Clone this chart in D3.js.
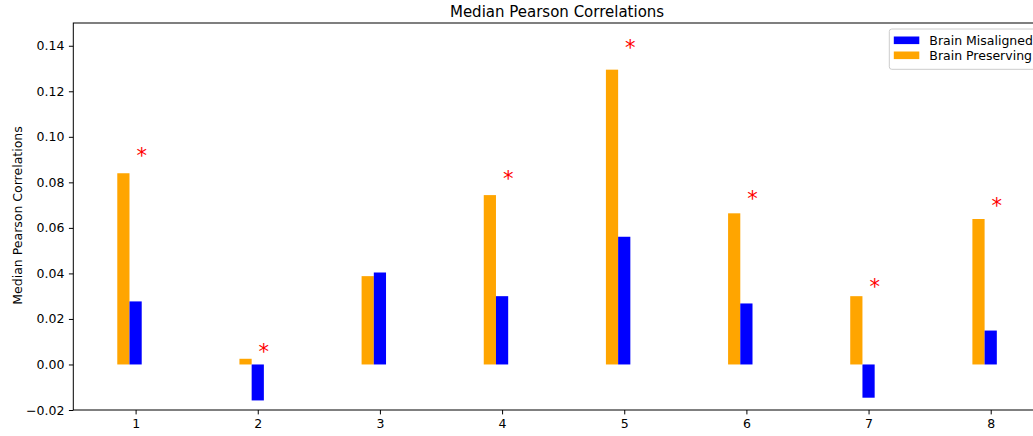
<!DOCTYPE html>
<html>
<head>
<meta charset="utf-8">
<script src="https://cdn.jsdelivr.net/npm/d3@7"></script>
<style>
  html, body { margin: 0; padding: 0; background: #fff; overflow: hidden; }
  svg { display: block; font-family: "DejaVu Sans", sans-serif; }
</style>
</head>
<body>
<svg id="chart" width="1033" height="436"></svg>
<script>
// Model index on the x axis
const categories = [1, 2, 3, 4, 5, 6, 7, 8];
// Median Pearson correlation per model
const preserving = [0.0840, 0.0025, 0.0388, 0.0744, 0.1295, 0.0664, 0.0300, 0.0639];
const misaligned = [0.0277, -0.0158, 0.0404, 0.0300, 0.0561, 0.0268, -0.0146, 0.0149];
// Height of the significance marker (null = not significant)
const starHeights = [0.0932, 0.0075, null, 0.0831, 0.1410, 0.0747, 0.0360, 0.0716];
const yTicks = [-0.02, 0.00, 0.02, 0.04, 0.06, 0.08, 0.10, 0.12, 0.14];
const seriesNames = ["Brain Misaligned", "Brain Preserving"];
const seriesColors = ["#0000ff", "#ffa500"];

(function draw() {
  const svg = d3.select("#chart");
  const mLeft = 73.3, mRight = 1040.8, mTop = 23, mBottom = 410;
  const barW = 0.1;

  const x = d3.scaleLinear().domain([0.49, 8.41]).range([mLeft, mRight]);
  const y = d3.scaleLinear().domain([-0.02, 0.15]).range([mBottom, mTop]);

  const plot = svg.append("g");

  // Bars: preserving sits just left of the tick, misaligned on the tick
  const rows = categories.map((c, i) => ({ c, p: preserving[i], m: misaligned[i], s: starHeights[i] }));

  plot.selectAll("rect.pres").data(rows).join("rect")
    .attr("class", "pres")
    .attr("x", d => x(d.c - 1.5 * barW))
    .attr("width", d => x(d.c - 0.5 * barW) - x(d.c - 1.5 * barW))
    .attr("y", d => y(Math.max(0, d.p)))
    .attr("height", d => Math.abs(y(d.p) - y(0)))
    .attr("fill", seriesColors[1]);

  plot.selectAll("rect.mis").data(rows).join("rect")
    .attr("class", "mis")
    .attr("x", d => x(d.c - 0.5 * barW))
    .attr("width", d => x(d.c + 0.5 * barW) - x(d.c - 0.5 * barW))
    .attr("y", d => y(Math.max(0, d.m)))
    .attr("height", d => Math.abs(y(d.m) - y(0)))
    .attr("fill", seriesColors[0]);

  // Significance markers
  const starSize = 21;
  plot.selectAll("text.star").data(rows.filter(d => d.s !== null)).join("text")
    .attr("class", "star")
    .attr("x", d => x(d.c + 0.05))
    .attr("y", d => y(d.s) + 0.53 * starSize)
    .attr("text-anchor", "middle")
    .attr("font-size", starSize)
    .attr("fill", "red")
    .text("*");

  // Axes
  const fmt = v => (v < 0 ? "\u2212" : "") + Math.abs(v).toFixed(2);
  const yAxis = svg.append("g")
    .attr("transform", `translate(${mLeft},0)`)
    .call(d3.axisLeft(y).tickValues(yTicks).tickFormat(fmt).tickSize(4.4).tickPadding(4.5));
  const xAxis = svg.append("g")
    .attr("transform", `translate(0,${mBottom})`)
    .call(d3.axisBottom(x).tickValues(categories).tickFormat(d3.format("d")).tickSize(4.4).tickPadding(4.5));

  [yAxis, xAxis].forEach(a => {
    a.selectAll("text").attr("font-size", 12.5).attr("fill", "#000").attr("font-family", "DejaVu Sans");
    a.selectAll("line").attr("stroke", "#000").attr("stroke-width", 1);
    a.select(".domain").remove();
  });

  // Frame
  svg.append("rect")
    .attr("x", mLeft).attr("y", mTop)
    .attr("width", mRight - mLeft).attr("height", mBottom - mTop)
    .attr("fill", "none").attr("stroke", "#000").attr("stroke-width", 1);

  // Title and axis label
  svg.append("text")
    .attr("x", (mLeft + mRight) / 2).attr("y", 16.5)
    .attr("text-anchor", "middle").attr("font-size", 15).attr("fill", "#000")
    .text("Median Pearson Correlations");

  svg.append("text")
    .attr("transform", `translate(22,${(mTop + mBottom) / 2 - 1}) rotate(-90)`)
    .attr("text-anchor", "middle").attr("font-size", 12.5).attr("fill", "#000")
    .text("Median Pearson Correlations");

  // Legend
  const lg = svg.append("g").attr("transform", "translate(889.3,29)");
  lg.append("rect")
    .attr("width", 147).attr("height", 40.3).attr("rx", 2.5)
    .attr("fill", "#fff").attr("fill-opacity", 0.8)
    .attr("stroke", "#cccccc").attr("stroke-width", 1);
  seriesNames.forEach((name, i) => {
    const cy = 11.3 + i * 15;
    lg.append("rect")
      .attr("x", 4.5).attr("y", cy - 3.8).attr("width", 25.5).attr("height", 7.6)
      .attr("fill", seriesColors[i]);
    lg.append("text")
      .attr("x", 40).attr("y", cy + 4.5)
      .attr("font-size", 12.5).attr("fill", "#000")
      .text(name);
  });
})();
</script>
</body>
</html>
